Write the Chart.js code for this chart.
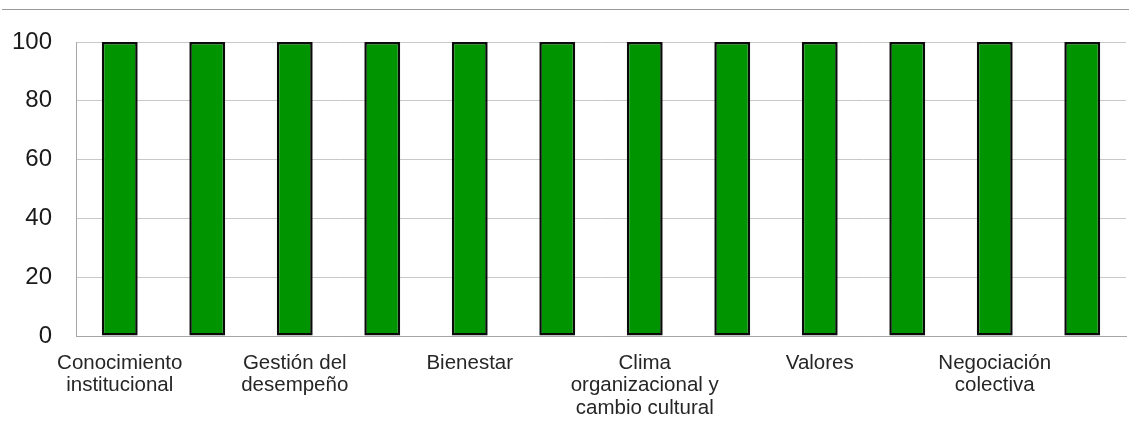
<!DOCTYPE html>
<html>
<head>
<meta charset="utf-8">
<script src="https://cdn.jsdelivr.net/npm/chart.js@4/dist/chart.umd.min.js"></script>
<style>
    html, body { margin: 0; padding: 0; background: #fff; }
    #wrap { position: relative; width: 1129px; height: 423px; }
    #topRule { position: absolute; left: 2px; right: 0; top: 9px; border-top: 1px solid #9a9a9a; }
    canvas { position: absolute; left: 0; top: 0; }
</style>
</head>
<body>
<div id="wrap">
    <div id="topRule"></div>
    <canvas id="chart" width="1129" height="423"></canvas>
</div>
<script>
// Categories: only every other one carries a visible name
const categories = [
    ['Conocimiento', 'institucional'], '',
    ['Gestión del', 'desempeño'], '',
    'Bienestar', '',
    ['Clima', 'organizacional y', 'cambio cultural'], '',
    'Valores', '',
    ['Negociación', 'colectiva'], ''
];
const values = [100, 100, 100, 100, 100, 100, 100, 100, 100, 100, 100, 100];
const yTicks = [0, 20, 40, 60, 80, 100];

const ctx = document.getElementById('chart').getContext('2d');

new Chart(ctx, {
    type: 'bar',
    data: {
        labels: categories,
        datasets: [{
            data: values,
            backgroundColor: '#009400',
            borderColor: '#0a0a0a',
            borderWidth: 2.5,
            borderSkipped: false,
            categoryPercentage: 1,
            barPercentage: 0.41
        }]
    },
    options: {
        responsive: false,
        animation: false,
        layout: { padding: { top: 42, right: 3, left: 0, bottom: 0 } },
        plugins: {
            legend: { display: false },
            tooltip: { enabled: false }
        },
        scales: {
            x: {
                grid: { display: false, drawTicks: false },
                border: { color: '#a6a6a6', width: 1 },
                ticks: {
                    autoSkip: false,
                    maxRotation: 0,
                    padding: 16,
                    color: '#262626',
                    font: { family: 'Liberation Sans, Arial, sans-serif', size: 20.5, lineHeight: 1.1 }
                },
                afterFit: scale => { scale.height = 87; }
            },
            y: {
                min: 0,
                max: 100,
                afterBuildTicks: scale => {
                    scale.ticks = yTicks.map(v => ({ value: v }));
                },
                grid: { color: '#c8c8c8', drawTicks: false },
                border: { color: '#a6a6a6', width: 1 },
                ticks: {
                    padding: 24,
                    color: '#1a1a1a',
                    font: { family: 'Liberation Sans, Arial, sans-serif', size: 24 }
                },
                afterFit: scale => { scale.width = 76; }
            }
        }
    }
});
</script>
</body>
</html>
